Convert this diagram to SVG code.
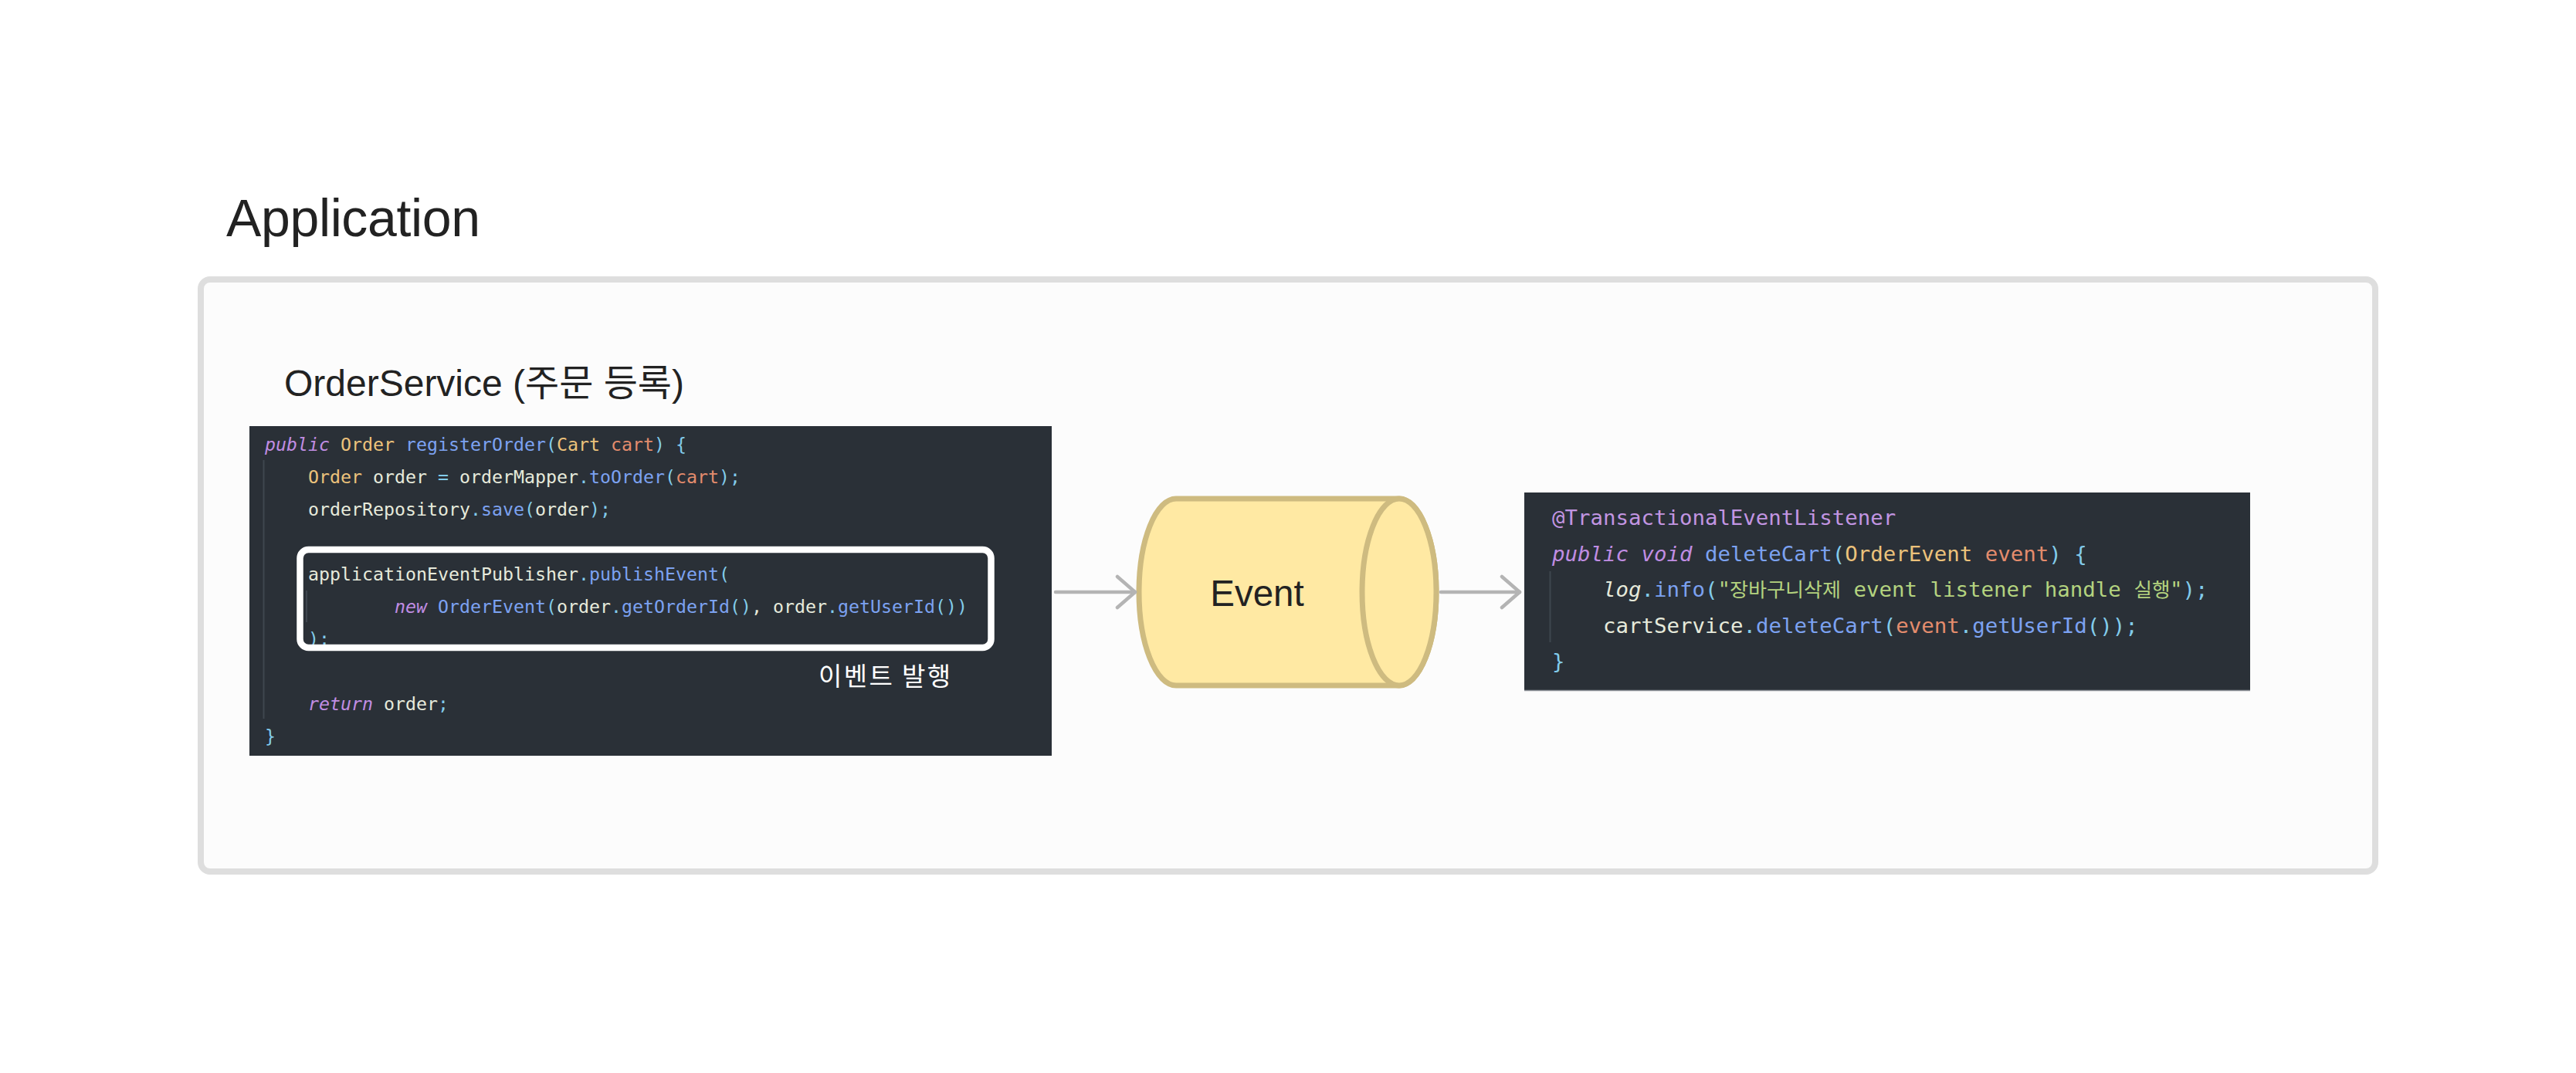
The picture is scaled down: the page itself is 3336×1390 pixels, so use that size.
<svg xmlns="http://www.w3.org/2000/svg" width="3336" height="1390" viewBox="0 0 3336 1390">
<defs>
<style>
.sans { font-family: "Liberation Sans", "Noto Sans CJK KR", sans-serif; fill: #222222; }
.kr { font-family: "Noto Sans CJK KR", "Liberation Sans", sans-serif; }
.mono { font-family: "DejaVu Sans Mono", "Liberation Mono", monospace; fill: #e6eadb; }
.c1 { font-size: 23.25px; }
.c2 { font-size: 27.4px; }
.kw { fill: #c08de3; font-style: italic; }
.ty { fill: #ecc27b; }
.fn { fill: #7ca2f1; }
.pu { fill: #82cbea; }
.pa { fill: #e48c6d; }
.id { fill: #e6eadb; }
.it { font-style: italic; }
.st { fill: #b4d37f; }
.an { fill: #c295e2; }
.codebg { fill: #2a3037; }
.guide { stroke: #3e464f; stroke-width: 2; }
.conn { stroke: #b4b4b4; stroke-width: 4.5; stroke-linecap: round; fill: none; }
</style>
<marker id="chev" markerUnits="userSpaceOnUse" viewBox="-28 -25 32 50" markerWidth="32" markerHeight="50" refX="0" refY="0" orient="auto">
<path d="M -23 -20 L 0 0 L -23 20" fill="none" stroke="#b4b4b4" stroke-width="4.5" stroke-linecap="round" stroke-linejoin="round"/>
</marker>
</defs>
<rect x="0" y="0" width="3336" height="1390" fill="#ffffff"/>

<g id="application-frame">
<rect x="260" y="362" width="2816" height="767" rx="12" ry="12" fill="#fcfcfc" stroke="#dedede" stroke-width="8"/>
</g>

<g id="title-application">
<text class="sans" x="293" y="306" font-size="68" textLength="329">Application</text>
</g>

<g id="order-service">
<text class="sans" x="368" y="512.5" font-size="48" textLength="518">OrderService (주문 등록)</text>
<rect class="codebg" x="323" y="552" width="1039" height="427"/>
<line class="guide" x1="341.5" y1="596" x2="341.5" y2="931"/>
<line class="guide" x1="397" y1="765" x2="397" y2="806"/>
<text class="mono c1" x="343" y="584"><tspan class="kw">public</tspan> <tspan class="ty">Order</tspan> <tspan class="fn">registerOrder</tspan><tspan class="pu">(</tspan><tspan class="ty">Cart</tspan> <tspan class="pa">cart</tspan><tspan class="pu">)</tspan> <tspan class="pu">{</tspan></text>
<text class="mono c1" x="399" y="626"><tspan class="ty">Order</tspan> <tspan class="id">order</tspan> <tspan class="pu">=</tspan> <tspan class="id">orderMapper</tspan><tspan class="pu">.</tspan><tspan class="fn">toOrder</tspan><tspan class="pu">(</tspan><tspan class="pa">cart</tspan><tspan class="pu">);</tspan></text>
<text class="mono c1" x="399" y="668"><tspan class="id">orderRepository</tspan><tspan class="pu">.</tspan><tspan class="fn">save</tspan><tspan class="pu">(</tspan><tspan class="id">order</tspan><tspan class="pu">);</tspan></text>
<text class="mono c1" x="399" y="752"><tspan class="id">applicationEventPublisher</tspan><tspan class="pu">.</tspan><tspan class="fn">publishEvent</tspan><tspan class="pu">(</tspan></text>
<text class="mono c1" x="511" y="794"><tspan class="kw">new</tspan> <tspan class="fn">OrderEvent</tspan><tspan class="pu">(</tspan><tspan class="id">order</tspan><tspan class="pu">.</tspan><tspan class="fn">getOrderId</tspan><tspan class="pu">()</tspan><tspan class="id">,</tspan> <tspan class="id">order</tspan><tspan class="pu">.</tspan><tspan class="fn">getUserId</tspan><tspan class="pu">())</tspan></text>
<text class="mono c1" x="399" y="836"><tspan class="pu">);</tspan></text>
<text class="mono c1" x="399" y="920"><tspan class="kw">return</tspan> <tspan class="id">order</tspan><tspan class="pu">;</tspan></text>
<text class="mono c1" x="343" y="962"><tspan class="pu">}</tspan></text>
<rect x="388.5" y="712" width="895" height="127" rx="11" ry="11" fill="none" stroke="#ffffff" stroke-width="8.5"/>
<text class="kr" x="1060" y="888" font-size="33" fill="#ffffff" textLength="171">이벤트 발행</text>
</g>

<g id="event">
<path d="M 1523 646 L 1812 646 A 48 121 0 0 1 1812 888 L 1523 888 A 48 121 0 0 1 1523 646 Z" fill="#ffe9a3" stroke="#cebb80" stroke-width="7"/>
<ellipse cx="1812" cy="767" rx="48" ry="121" fill="#ffe9a3" stroke="#cebb80" stroke-width="7"/>
<text class="sans" x="1628" y="785" font-size="47.5" text-anchor="middle">Event</text>
</g>

<g id="cart-listener">
<rect class="codebg" x="1974" y="638" width="940" height="257"/>
<line x1="1974" y1="894.5" x2="2914" y2="894.5" stroke="#8d9197" stroke-width="1.5"/>
<line class="guide" x1="2007.5" y1="740" x2="2007.5" y2="832"/>
<text class="mono c2" x="2010" y="680"><tspan class="an">@TransactionalEventListener</tspan></text>
<text class="mono c2" x="2010" y="726.5"><tspan class="kw">public</tspan> <tspan class="kw">void</tspan> <tspan class="fn">deleteCart</tspan><tspan class="pu">(</tspan><tspan class="ty">OrderEvent</tspan> <tspan class="pa">event</tspan><tspan class="pu">)</tspan> <tspan class="pu">{</tspan></text>
<text class="mono c2" x="2076" y="773"><tspan class="id it">log</tspan><tspan class="pu">.</tspan><tspan class="fn">info</tspan><tspan class="pu">(</tspan><tspan class="st">"</tspan></text>
<text class="kr st" x="2240" y="773" font-size="25.5" textLength="144" lengthAdjust="spacingAndGlyphs">장바구니삭제</text>
<text class="mono c2 st" x="2400.5" y="773">event listener handle</text>
<text class="kr st" x="2763.5" y="773" font-size="25.5" textLength="47" lengthAdjust="spacingAndGlyphs">실행</text>
<text class="mono c2" x="2810" y="773"><tspan class="st">"</tspan><tspan class="pu">);</tspan></text>
<text class="mono c2" x="2076" y="819.5"><tspan class="id">cartService</tspan><tspan class="pu">.</tspan><tspan class="fn">deleteCart</tspan><tspan class="pu">(</tspan><tspan class="pa">event</tspan><tspan class="pu">.</tspan><tspan class="fn">getUserId</tspan><tspan class="pu">());</tspan></text>
<text class="mono c2" x="2010" y="866"><tspan class="pu">}</tspan></text>
</g>

<g id="connectors">
<line class="conn" x1="1367" y1="767" x2="1470" y2="767" marker-end="url(#chev)"/>
<line class="conn" x1="1866" y1="767" x2="1968" y2="767" marker-end="url(#chev)"/>
</g>
</svg>
